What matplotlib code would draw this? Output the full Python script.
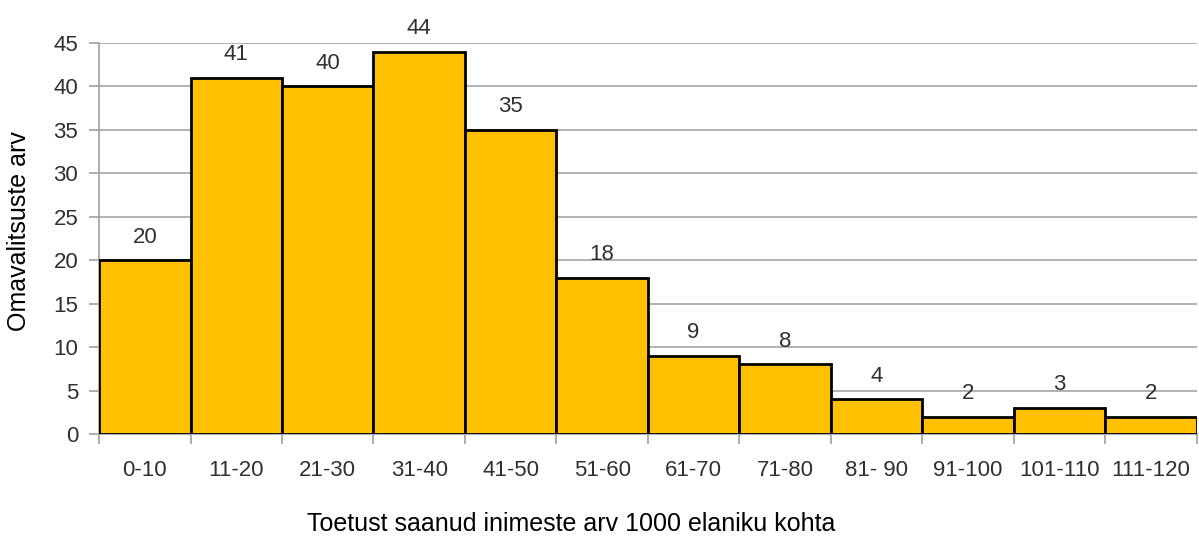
import numpy as np
import matplotlib.pyplot as plt

# andmed
categories = ["0-10", "11-20", "21-30", "31-40", "41-50", "51-60",
              "61-70", "71-80", "81- 90", "91-100", "101-110", "111-120"]
counts = [20, 41, 40, 44, 35, 18, 9, 8, 4, 2, 3, 2]

plt.rcParams['font.family'] = ['Liberation Sans', 'DejaVu Sans']

fig = plt.figure(figsize=(11.99, 5.41), dpi=100)
ax = fig.add_axes([0.0826, 0.1978, 0.9154, 0.7227])

x = np.arange(len(categories))
bars = ax.bar(x, counts, width=1.0, color="#FFC000", edgecolor="black",
              linewidth=2, zorder=3)

for bar, c in zip(bars, counts):
    ax.annotate(str(c), (bar.get_x() + bar.get_width() / 2, bar.get_height()),
                xytext=(0, 9), textcoords="offset points",
                ha="center", va="bottom", fontsize=16, color="#303030")

ax.set_xlim(-0.5, len(categories) - 0.5)
ax.set_ylim(0, 45)
ax.set_yticks(range(0, 46, 5))
ax.set_xticks(x)
ax.set_xticklabels(categories)
ax.set_xticks(np.arange(-0.5, len(categories)), minor=True)
ax.tick_params(axis="x", which="major", length=0, pad=19, labelsize=16,
               labelcolor="#303030")
ax.tick_params(axis="x", which="minor", length=7, color="#A0A0A0", width=1.2)
ax.tick_params(axis="y", length=7, color="#A0A0A0", width=1.2, labelsize=16,
               labelcolor="#303030", pad=8)

ax.grid(axis="y", color="#A6A6A6", linewidth=1.2, zorder=0)
for s in ["top", "right"]:
    ax.spines[s].set_visible(False)
for s in ["left", "bottom"]:
    ax.spines[s].set_color("#A0A0A0")
    ax.spines[s].set_linewidth(1.2)

ax.set_ylabel("Omavalitsuste arv", fontsize=18, color="black")
ax.yaxis.set_label_coords(-0.062, 0.52)
ax.set_xlabel("Toetust saanud inimeste arv 1000 elaniku kohta", fontsize=18,
              color="black")
ax.xaxis.set_label_coords(0.43, -0.2)

fig.savefig("out.png", dpi=100)
